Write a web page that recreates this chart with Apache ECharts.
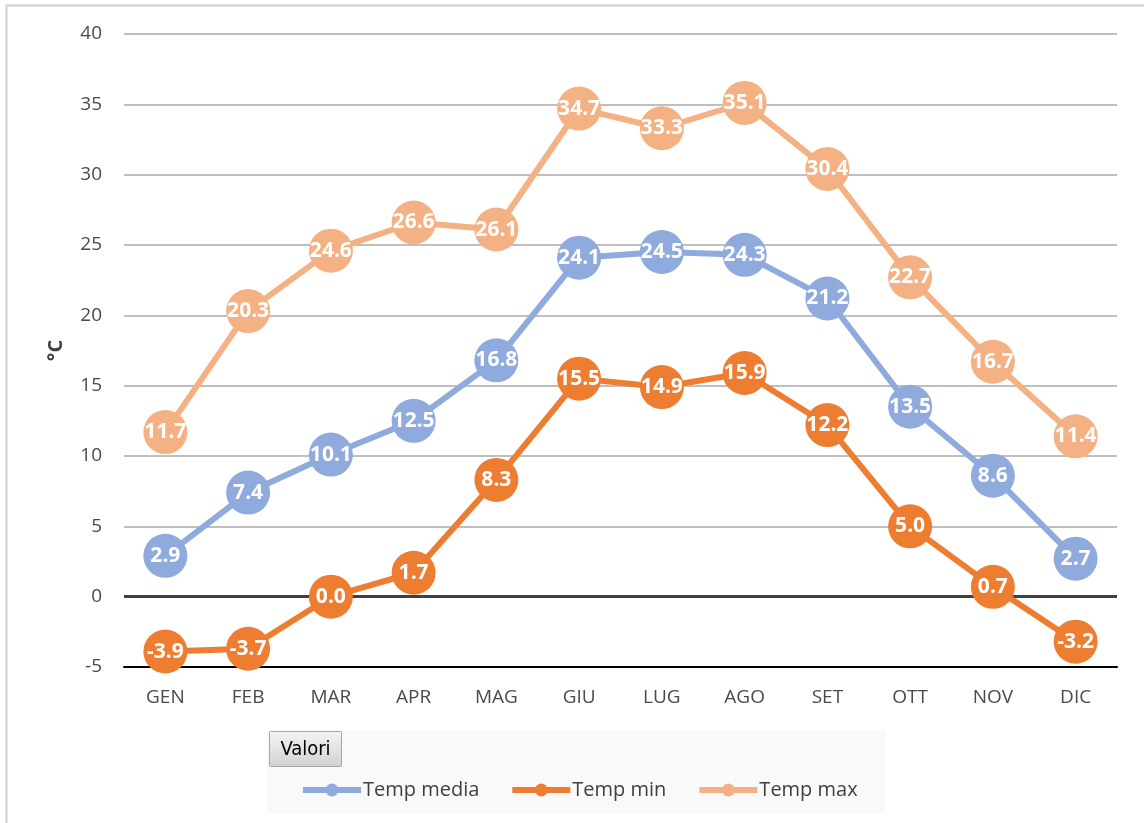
<!DOCTYPE html>
<html>
<head>
<meta charset="utf-8">
<script src="https://cdn.jsdelivr.net/npm/echarts@6/dist/echarts.min.js"></script>
<style>
  html, body { margin: 0; padding: 0; background: #fff; }
  #chart { width: 1144px; height: 823px; }
</style>
</head>
<body>
<div id="chart"></div>
<script>
// Monthly temperatures (°C)
const months = ['GEN', 'FEB', 'MAR', 'APR', 'MAG', 'GIU', 'LUG', 'AGO', 'SET', 'OTT', 'NOV', 'DIC'];
const tempMedia = [2.9, 7.4, 10.1, 12.5, 16.8, 24.1, 24.5, 24.3, 21.2, 13.5, 8.6, 2.7];
const tempMin = [-3.9, -3.7, 0.0, 1.7, 8.3, 15.5, 14.9, 15.9, 12.2, 5.0, 0.7, -3.2];
const tempMax = [11.7, 20.3, 24.6, 26.6, 26.1, 34.7, 33.3, 35.1, 30.4, 22.7, 16.7, 11.4];
const seriesNames = ['Temp media', 'Temp min', 'Temp max'];
const colors = ['#8faadc', '#ed7d31', '#f4b183'];

const FONT = '"Open Sans", "Noto Sans", sans-serif';

function lineSeries(name, data, color, z) {
  return {
    name: name,
    type: 'line',
    data: data,
    z: z,
    symbol: 'circle',
    symbolSize: 44,
    lineStyle: { color: color, width: 6 },
    itemStyle: { color: color },
    label: {
      show: true,
      position: 'inside',
      color: '#fff',
      fontFamily: FONT,
      fontWeight: 'bold',
      fontSize: 21,
      formatter: p => p.value.toFixed(1)
    },
    emphasis: { disabled: true },
    animation: false
  };
}

const chart = echarts.init(document.getElementById('chart'), null, { renderer: 'canvas' });

chart.setOption({
  backgroundColor: '#fff',
  animation: false,
  textStyle: { fontFamily: FONT },
  grid: { left: 124, right: 27, top: 34, bottom: 156, containLabel: false },
  xAxis: {
    type: 'category',
    data: months,
    boundaryGap: true,
    axisLine: { onZero: false, lineStyle: { color: '#000', width: 2 } },
    axisTick: { show: false },
    axisLabel: { color: '#4a4a4a', fontSize: 19, margin: 21, fontFamily: FONT }
  },
  yAxis: {
    type: 'value',
    min: -5,
    max: 40,
    interval: 5,
    name: '°C',
    nameLocation: 'middle',
    nameGap: 58,
    nameRotate: 90,
    nameTextStyle: { color: '#404040', fontSize: 20, fontWeight: 'bold', fontFamily: FONT },
    axisLine: { show: false },
    axisTick: { show: false },
    axisLabel: { color: '#4a4a4a', fontSize: 19, margin: 22, fontFamily: FONT },
    splitLine: { lineStyle: { color: '#bfbfbf', width: 2 } }
  },
  legend: {
    data: seriesNames,
    left: 295,
    top: 775,
    itemWidth: 58,
    itemHeight: 16,
    itemGap: 30,
    lineStyle: { width: 6 },
    textStyle: { color: '#404040', fontSize: 20, fontFamily: FONT, padding: [0, 0, 0, -3] }
  },
  graphic: [
    {
      type: 'rect',
      shape: { x: 6.5, y: 5.5, width: 1300, height: 1000 },
      style: { fill: null, stroke: '#d0d0d0', lineWidth: 2 },
      silent: true, z: 0
    },
    {
      type: 'rect',
      shape: { x: 267, y: 730, width: 618, height: 83 },
      style: { fill: '#f9f9f9' },
      silent: true, z: 0
    },
    {
      type: 'group',
      left: 269, top: 731, z: 10,
      children: [
        {
          type: 'rect',
          shape: { x: 0, y: 0, width: 72, height: 35, r: 1 },
          style: {
            fill: new echarts.graphic.LinearGradient(0, 0, 0, 1, [
              { offset: 0, color: '#f4f4f4' },
              { offset: 1, color: '#d2d2d2' }
            ]),
            stroke: '#a6a6a6', lineWidth: 1
          }
        },
        {
          type: 'text',
          x: 36, y: 18,
          style: {
            text: 'Valori', fill: '#000', fontSize: 20, fontFamily: '"Liberation Sans Narrow", "DejaVu Sans Condensed", sans-serif',
            align: 'center', verticalAlign: 'middle'
          }
        }
      ]
    }
  ],
  series: [
    {
      // zero reference line, drawn beneath the data
      type: 'line',
      data: [],
      z: 1,
      silent: true,
      markLine: {
        z: 1,
        silent: true,
        symbol: ['none', 'none'],
        label: { show: false },
        lineStyle: { color: '#404040', width: 3, type: 'solid' },
        data: [{ yAxis: 0 }],
        animation: false
      }
    },
    lineSeries(seriesNames[0], tempMedia, colors[0], 3),
    lineSeries(seriesNames[1], tempMin, colors[1], 4),
    lineSeries(seriesNames[2], tempMax, colors[2], 5)
  ]
});
</script>
</body>
</html>
